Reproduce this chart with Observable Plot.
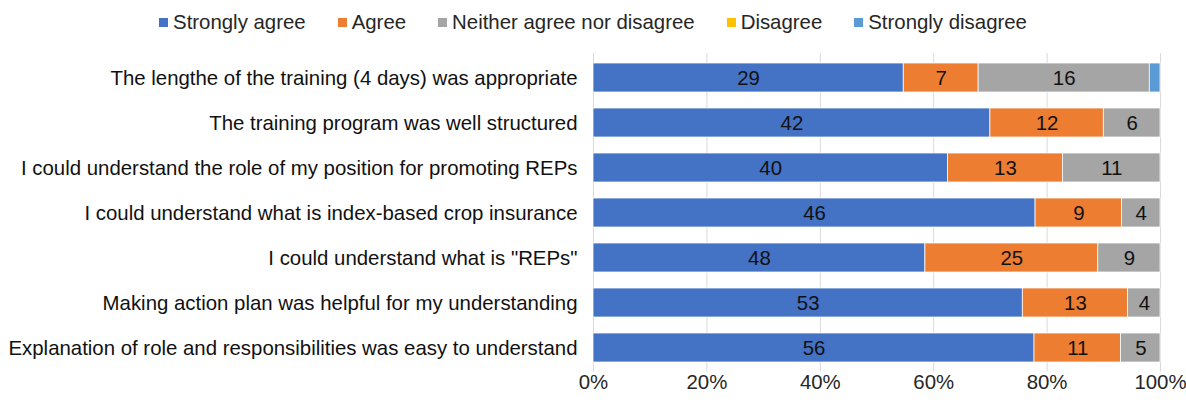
<!DOCTYPE html>
<html>
<head>
<meta charset="utf-8">
<script src="https://cdn.jsdelivr.net/npm/d3@7"></script>
<script src="https://cdn.jsdelivr.net/npm/@observablehq/plot@0.6"></script>
<style>
  html, body { margin: 0; padding: 0; background: #fff; }
  body { width: 1186px; height: 403px; overflow: hidden; font-family: "Liberation Sans", Arial, sans-serif; }
  #legend { height: 40px; display: flex; justify-content: center; align-items: center; gap: 32px; font-size: 20.4px; color: #262626; padding-top: 4px; box-sizing: border-box; }
  .item { display: flex; align-items: center; gap: 5px; }
  .sw { width: 9px; height: 9px; display: inline-block; }
  #chart svg { display: block; }
</style>
</head>
<body>
<div id="legend"></div>
<div id="chart"></div>
<script>
const categories = [
  "The lengthe of the training (4 days) was appropriate",
  "The training program was well structured",
  "I could understand the role of my position for promoting REPs",
  "I could understand what is index-based crop insurance",
  "I could understand what is \"REPs\"",
  "Making action plan was helpful for my understanding",
  "Explanation of role and responsibilities was easy to understand"
];
const responses = ["Strongly agree", "Agree", "Neither agree nor disagree", "Disagree", "Strongly disagree"];
const colors = ["#4472C4", "#ED7D31", "#A5A5A5", "#FFC000", "#5B9BD5"];
const stronglyAgree = [29, 42, 40, 46, 48, 53, 56];
const agree = [7, 12, 13, 9, 25, 13, 11];
const neither = [16, 6, 11, 4, 9, 4, 5];
const disagree = [0, 0, 0, 0, 0, 0, 0];
const stronglyDisagree = [1, 0, 0, 0, 0, 0, 0];
const xTicks = [0, 0.2, 0.4, 0.6, 0.8, 1];

const series = [stronglyAgree, agree, neither, disagree, stronglyDisagree];
const data = [];
categories.forEach((c, i) => {
  responses.forEach((r, j) => {
    data.push({cat: c, resp: r, value: series[j][i]});
  });
});

// legend
const legend = document.getElementById("legend");
responses.forEach((r, j) => {
  const it = document.createElement("div");
  it.className = "item";
  const sw = document.createElement("span");
  sw.className = "sw";
  sw.style.background = colors[j];
  const t = document.createElement("span");
  t.textContent = r;
  it.appendChild(sw); it.appendChild(t);
  legend.appendChild(it);
});

const FS = 20.4;
const chart = Plot.plot({
  width: 1186,
  height: 363,
  marginLeft: 593,
  marginRight: 26,
  marginTop: 13,
  marginBottom: 31.5,
  style: {fontFamily: "'Liberation Sans', Arial, sans-serif", fontSize: FS + "px", color: "#262626", background: "#fff"},
  x: {domain: [0, 1], ticks: xTicks, tickFormat: "%"},
  y: {domain: categories, padding: 0},
  color: {domain: responses, range: colors},
  marks: [
    Plot.gridX(xTicks, {stroke: "#d9d9d9", strokeOpacity: 1, strokeWidth: 1}),
    Plot.barX(data, Plot.stackX({
      x: "value", y: "cat", z: "resp", fill: "resp",
      offset: "normalize", order: responses,
      insetTop: 8, insetBottom: 8, stroke: "#fff", strokeWidth: 0.75
    })),
    Plot.textX(data, Plot.stackX({
      x: "value", y: "cat", z: "resp",
      offset: "normalize", order: responses,
      text: d => d.value > 1 ? String(d.value) : "",
      fill: "#111", fontSize: FS
    })),
    Plot.axisX({ticks: xTicks, tickFormat: "%", tickSize: 0, tickPadding: 3, label: null, fontSize: FS, fill: "#262626"}),
    Plot.axisY({tickSize: 0, tickPadding: 16, label: null, fontSize: FS, fill: "#111"})
  ]
});
document.getElementById("chart").appendChild(chart);
</script>
</body>
</html>
